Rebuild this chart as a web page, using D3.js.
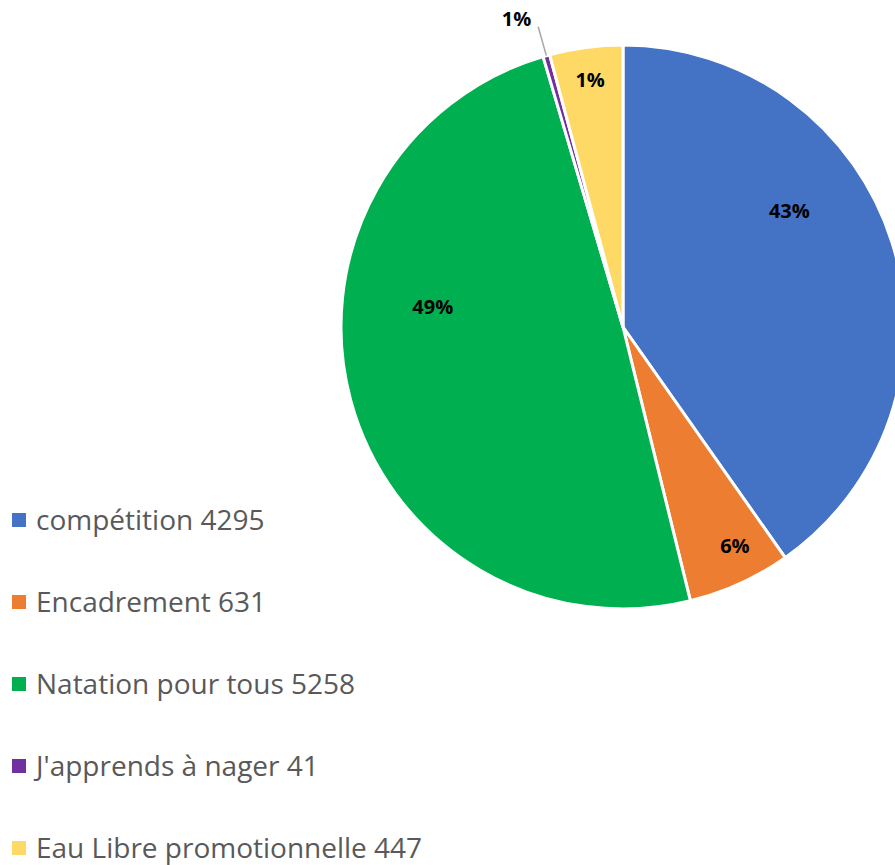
<!DOCTYPE html>
<html>
<head>
<meta charset="utf-8">
<script src="https://cdn.jsdelivr.net/npm/d3@7"></script>
<style>
  body { margin: 0; background: #fff; }
  svg { display: block; }
</style>
</head>
<body>
<div id="chart"></div>
<script>
var categories = ['compétition', 'Encadrement', 'Natation pour tous', "J'apprends à nager", 'Eau Libre promotionnelle']
var values = [4295, 631, 5258, 41, 447]
var pctLabels = ['43%', '6%', '49%', '1%', '1%']
var colors = ['#4472c4', '#ed7d31', '#00b050', '#7030a0', '#ffd966']

var w = 895, h = 865
var svg = d3.select('#chart').append('svg').attr('width', w).attr('height', h)

var cx = 623, cy = 327, r = 282
var fontFam = '"Open Sans", Lato, sans-serif'

var pie = d3.pie().sort(null).value(function (d) { return d })
var arcs = pie(values)
var arc = d3.arc().innerRadius(0).outerRadius(r)

var g = svg.append('g').attr('transform', 'translate(' + cx + ',' + cy + ')')

g.selectAll('path.slice').data(arcs).enter().append('path')
  .attr('class', 'slice')
  .attr('d', arc)
  .attr('fill', function (d, i) { return colors[i] })
  .attr('stroke', '#fff')
  .attr('stroke-width', 3)

// labels: small slices (< 2%) go outside with a leader line
// bigger slices: label pulled inward and nudged toward the top, like excel's best fit
var total = d3.sum(values)
arcs.forEach(function (d, i) {
  var share = d.value / total
  var mid = (d.startAngle + d.endAngle) / 2
  if (share < 0.02) {
    var p0 = [Math.sin(mid) * r, -Math.cos(mid) * r]
    var p1 = [Math.sin(mid) * (r + 30), -Math.cos(mid) * (r + 30)]
    g.append('line')
      .attr('x1', p0[0]).attr('y1', p0[1])
      .attr('x2', p1[0]).attr('y2', p1[1])
      .attr('stroke', '#a6a6a6').attr('stroke-width', 1.5)
    g.append('text')
      .attr('x', p1[0] - 7).attr('y', p1[1] - 1)
      .attr('text-anchor', 'end')
      .style('font-family', fontFam)
      .style('font-weight', 'bold').style('font-size', '20px')
      .attr('fill', '#000')
      .text(pctLabels[i])
  } else {
    var nudge = share * 0.75
    var a = mid < Math.PI ? mid - nudge : mid + nudge
    var lr = r * (0.9 - share * 0.45)
    g.append('text')
      .attr('x', Math.sin(a) * lr - (share < 0.05 ? 8 : 0)).attr('y', -Math.cos(a) * lr)
      .attr('text-anchor', 'middle').attr('dy', '0.35em')
      .style('font-family', fontFam)
      .style('font-weight', 'bold').style('font-size', '20px')
      .attr('fill', '#000')
      .text(pctLabels[i])
  }
})

// legend
var leg = svg.append('g').attr('transform', 'translate(12,520)')
var rows = leg.selectAll('g').data(categories).enter().append('g')
  .attr('transform', function (d, i) { return 'translate(0,' + (i * 82) + ')' })
rows.append('rect').attr('x', 0).attr('y', -7).attr('width', 14).attr('height', 14)
  .attr('fill', function (d, i) { return colors[i] })
rows.append('text').attr('x', 24).attr('dy', '0.35em')
  .style('font-family', fontFam)
  .style('font-size', '28px')
  .attr('fill', '#595959')
  .text(function (d, i) { return d + ' ' + values[i] })
</script>
</body>
</html>
